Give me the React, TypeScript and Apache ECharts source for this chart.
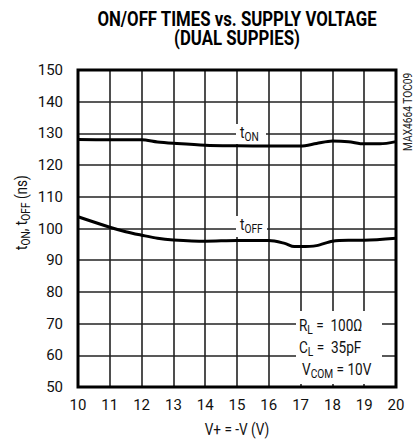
import React, { useEffect, useRef } from 'react';
import * as echarts from 'echarts';

const xTicks = [10, 11, 12, 13, 14, 15, 16, 17, 18, 19, 20];
const yTicks = [50, 60, 70, 80, 90, 100, 110, 120, 130, 140, 150];

const tOnV = [10, 11, 12, 12.5, 13, 14, 15, 16, 17, 17.5, 18, 18.5, 19, 19.5, 20];
const tOnNs = [128.1, 128.0, 128.0, 127.3, 126.9, 126.3, 126.1, 126.0, 126.0, 126.8, 127.6, 127.4, 126.7, 126.7, 127.4];

const tOffV = [10, 11, 11.5, 12, 12.5, 13, 14, 15, 16, 16.5, 16.8, 17, 17.5, 18, 18.5, 19, 20];
const tOffNs = [103.7, 100.4, 99.0, 97.9, 96.9, 96.4, 96.0, 96.2, 96.2, 95.3, 94.3, 94.3, 94.6, 96.0, 96.3, 96.3, 96.9];

const FONT = "Roboto, 'Liberation Sans', sans-serif";

const GRID = { left: 78, right: 20, top: 70, bottom: 57 };
const W = 416;
const H = 444;

const rich = {
  b: { fontSize: 16, lineHeight: 18, verticalAlign: 'top', fontFamily: FONT, color: '#111' },
  s: { fontSize: 12, lineHeight: 14, verticalAlign: 'top', padding: [6, 0, 0, 0], fontFamily: FONT, color: '#111' },
};

function richText(x: number, y: number, text: string) {
  return {
    type: 'text',
    x,
    y,
    z: 20,
    scaleX: 0.85,
    style: { text, rich, font: `16px ${FONT}`, fill: '#111' },
  };
}

const xMin = xTicks[0];
const xMax = xTicks[xTicks.length - 1];
const yMin = yTicks[0];
const yMax = yTicks[yTicks.length - 1];

const gridStyle = { color: '#222', width: 1.6, type: 'solid' };

export default function App() {
  const ref = useRef<HTMLDivElement>(null);
  useEffect(() => {
    const chart = echarts.init(ref.current!, null, { renderer: 'svg' });
    chart.setOption({
      animation: false,
      grid: { ...GRID, show: false },
      xAxis: {
        type: 'value',
        min: xMin,
        max: xMax,
        interval: 1,
        axisLine: { show: false },
        axisTick: { show: false },
        axisLabel: { margin: 10, fontSize: 15, fontFamily: FONT, color: '#111' },
        splitLine: { show: true, lineStyle: gridStyle },
      },
      yAxis: {
        type: 'value',
        min: yMin,
        max: yMax,
        interval: 10,
        axisLine: { show: false },
        axisTick: { show: false },
        axisLabel: { margin: 15, fontSize: 15, fontFamily: FONT, color: '#111' },
        splitLine: { show: true, lineStyle: gridStyle },
      },
      series: [
        {
          type: 'line',
          data: tOnV.map((v, i) => [v, tOnNs[i]]),
          smooth: 0.3,
          symbol: 'none',
          lineStyle: { color: '#000', width: 3 },
          z: 10,
        },
        {
          type: 'line',
          data: tOffV.map((v, i) => [v, tOffNs[i]]),
          smooth: 0.3,
          symbol: 'none',
          lineStyle: { color: '#000', width: 3 },
          z: 10,
        },
      ],
      graphic: [
        {
          type: 'rect',
          z: 12,
          silent: true,
          shape: { x: GRID.left, y: GRID.top, width: W - GRID.left - GRID.right, height: H - GRID.top - GRID.bottom },
          style: { fill: 'none', stroke: '#000', lineWidth: 3 },
        },
        {
          type: 'text',
          x: 237,
          y: 9,
          scaleX: 0.84,
          style: {
            text: 'ON/OFF TIMES vs. SUPPLY VOLTAGE\n(DUAL SUPPIES)',
            font: `bold 20px ${FONT}`,
            fill: '#000',
            textAlign: 'center',
            lineHeight: 20,
          },
        },
        { type: 'rect', z: 15, shape: { x: 236, y: 124, width: 30, height: 20 }, style: { fill: '#fff' } },
        richText(240, 125, '{b|t}{s|ON}'),
        { type: 'rect', z: 15, shape: { x: 236, y: 216, width: 31, height: 21 }, style: { fill: '#fff' } },
        richText(240, 217, '{b|t}{s|OFF}'),
        { type: 'rect', z: 15, shape: { x: 296, y: 311, width: 86, height: 73 }, style: { fill: '#fff' } },
        richText(299, 318, '{b|R}{s|L}{b| =  100Ω}'),
        richText(299, 340, '{b|C}{s|L}{b| =  35pF}'),
        richText(302, 362, '{b|V}{s|COM}{b| = 10V}'),
        {
          type: 'text',
          x: 237,
          y: 430,
          scaleX: 0.85,
          style: {
            text: 'V+ = -V (V)',
            font: `16px ${FONT}`,
            fill: '#111',
            textAlign: 'center',
            textVerticalAlign: 'middle',
          },
        },
        {
          type: 'group',
          x: 14,
          y: 250,
          rotation: Math.PI / 2,
          children: [
            {
              type: 'text',
              x: 0,
              y: 0,
              scaleX: 0.85,
              style: { text: '{b|t}{s|ON}{b|, t}{s|OFF}{b| (ns)}', rich, font: `16px ${FONT}`, fill: '#111' },
            },
          ],
        },
        {
          type: 'text',
          x: 402,
          y: 151,
          rotation: Math.PI / 2,
          scaleX: 0.85,
          style: {
            text: 'MAX4664 TOC09',
            font: `12px ${FONT}`,
            fill: '#222',
          },
        },
      ],
    });
    return () => chart.dispose();
  }, []);
  return <div ref={ref} style={{ position: 'absolute', left: 0, top: 0, width: W, height: H }} />;
}
